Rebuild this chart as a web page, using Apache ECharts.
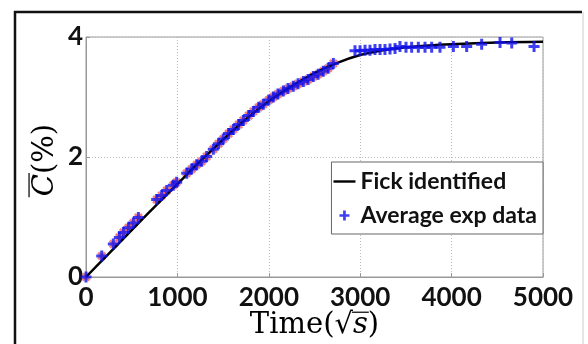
<!DOCTYPE html>
<html><head><meta charset="utf-8">
<script src="https://cdn.jsdelivr.net/npm/echarts/dist/echarts.min.js"></script>
<style>html,body{margin:0;padding:0;background:#fff}#c{width:588px;height:344px}</style>
</head><body><div id="c"></div>
<script>
// axis ticks
const xTicks = [0, 1000, 2000, 3000, 4000, 5000];
const yTicks = [0, 2, 4];
// Fick identified curve
const fickX = [0, 250, 500, 750, 1000, 1250, 1500, 1750, 2000, 2250, 2500, 2750, 3000, 3250, 3500, 3750, 4000, 4500, 5000];
const fickY = [0, 0.39, 0.78, 1.17, 1.55, 1.93, 2.29, 2.63, 2.93, 3.18, 3.40, 3.57, 3.70, 3.78, 3.83, 3.86, 3.88, 3.91, 3.92];
// Average exp data
const expX = [0, 172, 299, 365, 409, 464, 518, 573, 773, 828, 883, 955, 992, 1102, 1156, 1211, 1266, 1320,
  1393, 1450, 1502, 1560, 1612, 1670, 1721, 1780, 1831, 1890, 1940, 2000, 2049, 2100, 2159, 2210, 2268, 2320,
  2378, 2430, 2487, 2540, 2596, 2650, 2706,
  2943, 2998, 3053, 3107, 3162, 3217, 3271, 3326, 3381, 3435, 3501, 3563, 3636, 3709, 3782, 3873, 4019, 4165,
  4329, 4530, 4658, 4902];
const expY = [0, 0.35, 0.55, 0.66, 0.74, 0.82, 0.90, 0.99, 1.29, 1.36, 1.44, 1.53, 1.58, 1.73, 1.80, 1.87, 1.93, 2.01,
  2.13, 2.22, 2.30, 2.39, 2.46, 2.54, 2.61, 2.69, 2.76, 2.83, 2.88, 2.95, 3.00, 3.05, 3.10, 3.14, 3.18, 3.22,
  3.26, 3.29, 3.34, 3.38, 3.43, 3.48, 3.56,
  3.77, 3.77, 3.78, 3.78, 3.79, 3.79, 3.79, 3.80, 3.81, 3.84, 3.83, 3.83, 3.83, 3.83, 3.83, 3.83, 3.84, 3.84,
  3.88, 3.91, 3.90, 3.84];
// titles
const xTitle = ['Time(√', 's', ')'];
const yTitle = ['C', '(%)'];
const legendNames = ['Fick identified', 'Average exp data'];

const fickData = fickX.map((x, i) => [x, fickY[i]]);
const expData = expX.map((x, i) => [x, expY[i]]);
const sampleData = expData.filter(p => p[0] < 2800);

const plusPath = 'path://M4,0H7V4H11V7H7V11H4V7H0V4H4Z';
const linePath = 'path://M0,0H22V2.4H0Z';

// layout
const G = {left: 86, top: 37, width: 457, height: 240};
const NAME_FS = 29;
const xNameCY = 325, yNameCX = 45;

// measure title pieces to place the overlines
const ctx = document.createElement('canvas').getContext('2d');
function tw(t, f) { ctx.font = f; return ctx.measureText(t).width; }
const serif = NAME_FS + 'px "DejaVu Serif"';
const serifI = 'italic ' + NAME_FS + 'px "DejaVu Serif"';
const wA = tw(xTitle[0], serif), wS = tw(xTitle[1], serifI), wB = tw(xTitle[2], serif);
const xMid = G.left + G.width / 2;
const xStart = xMid - (wA + wS + wB) / 2;
const wC = tw(yTitle[0], serifI), wP = tw(yTitle[1], serif);
const yMid = 160;
const yBottom = yMid + (wC + wP) / 2;

const richName = {
  t: {fontFamily: 'DejaVu Serif', fontSize: NAME_FS, color: '#111'},
  i: {fontFamily: 'DejaVu Serif', fontStyle: 'italic', fontSize: NAME_FS, color: '#111'}
};

const chart = echarts.init(document.getElementById('c'), null, {renderer: 'canvas'});
const labelFont = {fontFamily: 'Lato', fontWeight: 'bold', fontSize: 26, color: '#111'};
chart.setOption({
  animation: false,
  backgroundColor: '#fff',
  grid: Object.assign({show: true, borderColor: '#999', borderWidth: 1, backgroundColor: 'transparent',
    outerBoundsMode: 'none', containLabel: false}, G),
  xAxis: {
    type: 'value', min: xTicks[0], max: xTicks[xTicks.length - 1], interval: 1000,
    axisLine: {show: true, lineStyle: {color: '#999', width: 1}},
    axisTick: {show: true, inside: true, length: 4, lineStyle: {color: '#999'}},
    axisLabel: Object.assign({margin: 8, formatter: v => xTicks.includes(v) ? String(v) : ''}, labelFont),
    splitLine: {show: true, lineStyle: {color: '#bbb', type: [1, 2], width: 1}}
  },
  yAxis: {
    type: 'value', min: yTicks[0], max: yTicks[yTicks.length - 1], interval: 2,
    axisLine: {show: true, lineStyle: {color: '#999', width: 1}},
    axisTick: {show: true, inside: true, length: 4, lineStyle: {color: '#999'}},
    axisLabel: Object.assign({margin: 3, formatter: v => yTicks.includes(v) ? String(v) : ''}, labelFont),
    splitLine: {show: true, lineStyle: {color: '#bbb', type: [1, 2], width: 1}}
  },
  legend: {
    orient: 'vertical', right: 588 - (G.left + G.width), top: 162,
    padding: [8, 6, 7, 2], itemGap: 11,
    backgroundColor: '#fff', borderColor: '#666', borderWidth: 1,
    itemWidth: 22, itemHeight: 10,
    textStyle: {fontFamily: 'Lato', fontWeight: 'bold', fontSize: 23, color: '#111'},
    data: [
      {name: legendNames[0], icon: linePath, itemStyle: {color: '#000'}},
      {name: legendNames[1], icon: plusPath, itemStyle: {color: '#1010ee'}}
    ]
  },
  graphic: [
    {type: 'line', shape: {x1: 14, y1: 12, x2: 582, y2: 12}, style: {stroke: '#111', lineWidth: 2.5}},
    {type: 'line', shape: {x1: 15, y1: 11, x2: 15, y2: 344}, style: {stroke: '#111', lineWidth: 2.5}},
    {type: 'line', shape: {x1: 583, y1: 12, x2: 583, y2: 344}, style: {stroke: '#ccc', lineWidth: 1}},
    // x title
    {type: 'text', x: xMid, y: xNameCY, z: 100, style: {
      text: '{t|' + xTitle[0] + '}{i|' + xTitle[1] + '}{t|' + xTitle[2] + '}', rich: richName,
      align: 'center', verticalAlign: 'middle'}},
    // y title
    {type: 'text', x: yNameCX, y: yMid, rotation: Math.PI / 2, z: 100, style: {
      text: '{i|' + yTitle[0] + '}{t|' + yTitle[1] + '}', rich: richName,
      align: 'center', verticalAlign: 'middle'}},
    // overline over C
    {type: 'line', shape: {x1: yNameCX - 0.55 * NAME_FS, y1: yBottom - wC - 1, x2: yNameCX - 0.55 * NAME_FS, y2: yBottom + 1},
      style: {stroke: '#111', lineWidth: 1.3}, z: 100},
    // vinculum of the square root
    {type: 'line', shape: {x1: xStart + wA - 1, y1: xNameCY - 0.44 * NAME_FS, x2: xStart + wA + wS + 1, y2: xNameCY - 0.44 * NAME_FS},
      style: {stroke: '#111', lineWidth: 1.3}, z: 100}
  ],
  series: [
    {name: 'samples', type: 'scatter', data: sampleData, symbol: plusPath, symbolSize: 10, symbolRotate: 45,
      itemStyle: {color: '#f06060', opacity: 0.8}, silent: true, z: 1},
    {name: legendNames[0], type: 'line', data: fickData, smooth: 0.3, showSymbol: false,
      lineStyle: {color: '#000', width: 2.5}, z: 2},
    {name: legendNames[1], type: 'scatter', data: expData, symbol: plusPath, symbolSize: 11,
      itemStyle: {color: '#1010ee'}, z: 3}
  ]
});
</script>
</body></html>
